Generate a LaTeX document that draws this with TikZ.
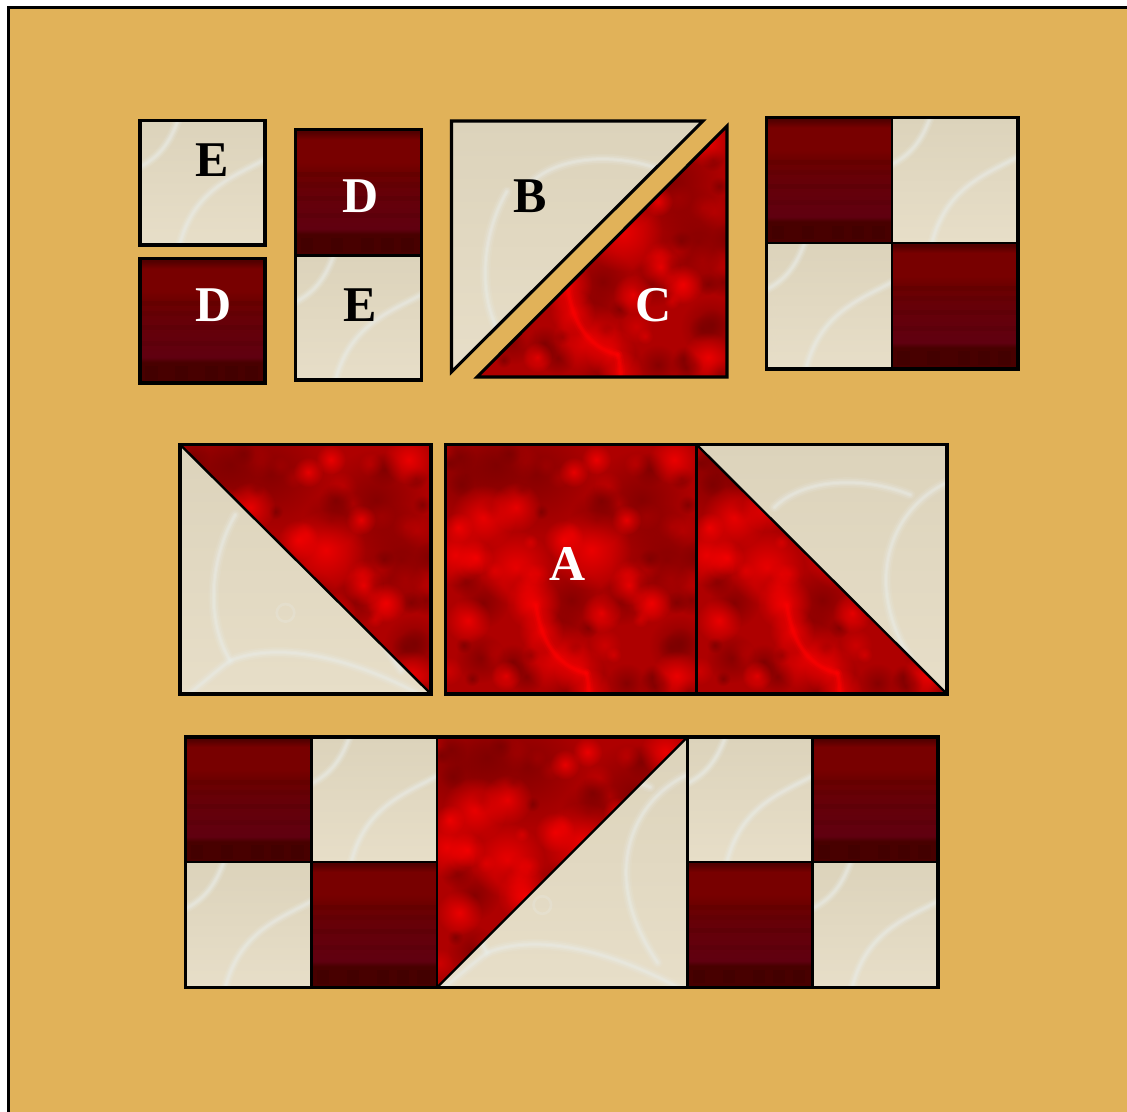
\documentclass[tikz,border=0pt]{standalone}
\usepackage{fontspec}
\setmainfont{Liberation Serif}
\usetikzlibrary{fadings}
\definecolor{quiltbg}{HTML}{E1B259}
\definecolor{creamA}{HTML}{DCD3BB}
\definecolor{creamB}{HTML}{E7DEC8}
\definecolor{streak}{HTML}{EAEDE8}
\definecolor{redbase}{HTML}{AE0000}
\definecolor{reddark}{HTML}{7A0000}
\definecolor{redbright}{HTML}{FF0000}
\definecolor{dkA}{HTML}{480000}
\definecolor{dkB}{HTML}{600010}
\definecolor{dkC}{HTML}{660008}
\definecolor{dkD}{HTML}{6C0000}
\definecolor{dkE}{HTML}{780000}
\definecolor{dkF}{HTML}{520000}
\definecolor{dkband}{HTML}{3A0000}
\pgfdeclareverticalshading{dkred}{100bp}{
  color(0bp)=(dkA);color(25bp)=(dkA);color(33.5bp)=(dkA);color(35.5bp)=(dkB);
  color(50bp)=(dkC);color(58bp)=(dkD);color(62bp)=(dkE);color(71bp)=(dkE);
  color(74bp)=(dkF);color(75bp)=(dkF);color(100bp)=(dkF)}
\tikzfading[name=softglow,inner color=transparent!25,outer color=transparent!100]
\tikzset{
  edge/.style={draw=black,line width=2.3pt,line join=miter},
  seam/.style={draw=black,line width=1.8pt,line cap=butt},
  lab/.style={inner sep=0pt,font=\bfseries\fontsize{37.5}{40}\selectfont},
  glow/.style={path fading=softglow},
}
% small cream square
\newcommand{\creamsmall}[3]{%
  \begin{scope}
    \clip (#1,#2) rectangle ++(#3,#3);
    \shade[top color=creamA,bottom color=creamB] (#1,#2) rectangle ++(#3,#3);
    \begin{scope}[shift={(#1,#2)},x=#3*0.0075pt,y=-#3*0.0075pt,streak,line cap=round]
      \foreach \w/\o in {7pt/.14,5pt/.2,3pt/.3,1.5pt/.3}{
        \draw[line width=\w,opacity=\o] (31,-2) .. controls (24,18) and (15,30) .. (-2,38);
        \draw[line width=\w,opacity=\o] (102,30) .. controls (75,45) and (42,55) .. (31,102);
      }
    \end{scope}
  \end{scope}}
% large cream square (clip set by the caller)
\newcommand{\creambig}[3]{%
  \shade[top color=creamA,bottom color=creamB] (#1,#2) rectangle ++(#3,#3);
  \begin{scope}[shift={(#1,#2)},x=#3*0.0075pt,y=-#3*0.0075pt,streak,line cap=round]
    \foreach \w/\o in {8pt/.12,5.5pt/.2,3pt/.3,1.5pt/.3}{
      \draw[line width=\w,opacity=\o] (31,25) .. controls (42,14) and (65,12) .. (85,20);
      \draw[line width=\w,opacity=\o] (100,15) .. controls (78,25) and (64,55) .. (88,90);
      \draw[line width=\w,opacity=\o] (22,28) .. controls (12,45) and (10,70) .. (20,86) .. controls (40,78) and (70,85) .. (100,102);
      \draw[line width=\w,opacity=\o] (20,86) .. controls (12,92) and (8,96) .. (0,102);
    }
    \draw[line width=2pt,opacity=.25] (42,67) circle (3.5);
  \end{scope}}
% mottled red fabric
\newcommand{\redfab}[3]{%
  \fill[redbase] (#1,#2) rectangle ++(#3,#3);
  \begin{scope}[shift={(#1,#2)},x=#3*0.0075pt,y=-#3*0.0075pt]
    \pgfmathsetseed{4711}
    \foreach \i in {1,...,70}{
      \pgfmathsetmacro{\a}{rnd*100}\pgfmathsetmacro{\b}{rnd*100}\pgfmathsetmacro{\r}{3+rnd*4}\pgfmathsetmacro{\k}{rnd}
      \ifdim\k pt<0.55pt
        \fill[reddark,glow] (\a,\b) circle (\r);
      \else
        \fill[redbright,opacity=.5,glow] (\a,\b) circle (\r);
      \fi
    }
    \foreach \a/\b/\r in {8/12/22,36/12/24,78/22/20,88/46/22,50/62/13,15/63/10,45/75/11,53/95/13,14/85/10,93/80/12,72/95/8,20/8/13,60/30/11,70/62/10}{
      \fill[reddark,glow] (\a,\b) circle (\r);
    }
    \foreach \a/\b/\r in {15/29/13,28/25/10,4/44/12,28/49/15,58/42/16,35/63/11,62/67/8,82/63/8,44/84/14,38/74/9,53/90/10,57/98/9,91/6/10,60/6/6,51/11/6,5/33/6,73/56/8,9/70/9,92/92/10,47/38/8,12/45/7,72/30/6,24/92/6}{
      \fill[redbright,glow] (\a,\b) circle (\r);
    }
    \begin{scope}[redbright,line cap=round]
      \foreach \w/\o in {7pt/.15,4pt/.3,2pt/.4}{
        \draw[line width=\w,opacity=\o] (36,64) .. controls (38,78) and (44,88) .. (56,91);
        \draw[line width=\w,opacity=\o] (56,91) .. controls (57,94) and (57,97) .. (57,100);
      }
    \end{scope}
  \end{scope}}
\newcommand{\darkfab}[3]{%
  \shade[shading=dkred] (#1,#2) rectangle ++(#3,#3);
  \begin{scope}[shift={(#1,#2)},x=#3*0.0075pt,y=-#3*0.0075pt]
    \foreach \yy/\o in {34/.12,42/.1,53/.12,66/.1}{
      \fill[dkband,opacity=\o] (0,\yy) rectangle (100,\yy+4);
    }
    \foreach \xx in {4,28,52,68,84}{
      \fill[dkband,opacity=.35] (\xx,86) rectangle (\xx+10,97);
    }
  \end{scope}}
\begin{document}
\begin{tikzpicture}[x=0.75pt,y=-0.75pt]
\useasboundingbox (0,0) rectangle (1127,1112);
\fill[white] (0,0) rectangle (1127,1112);
\fill[quiltbg] (8.5,8) rectangle (1127,1112);
\draw[line width=2.3pt,black] (8.5,1112) -- (8.5,7.5) -- (1127,7.5);

% E and D single squares
\creamsmall{140}{120.5}{125}
\draw[edge] (140,120.5) rectangle (265,245);
\node[lab,text=black] (e1) at (212.5,160.5) {E};
\darkfab{140}{258.5}{125}
\draw[edge] (140,258.5) rectangle (265,383);
\node[lab,text=white] (d1) at (213.5,305.5) {D};

% D over E
\darkfab{295.5}{129.5}{126}
\creamsmall{295.5}{255.3}{126}
\draw[edge] (295.5,129.5) rectangle (421.3,380);
\draw[edge] (295.5,255.3) -- (421.3,255.3);
\node[lab,text=white] (d2) at (360.5,196.5) {D};
\node[lab,text=black] (e2) at (360,305.5) {E};

% separated triangles
\begin{scope}
  \clip (451.5,121) -- (703,121) -- (451.5,372) -- cycle;
  \creambig{451.5}{121}{251.5}
\end{scope}
\draw[edge] (451.5,121) -- (703,121) -- (451.5,372) -- cycle;
\begin{scope}
  \clip (727,126) -- (727,377) -- (477,377) -- cycle;
  \redfab{477}{126}{251}
\end{scope}
\draw[edge] (727,126) -- (727,377) -- (477,377) -- cycle;
\node[lab,text=black] (b) at (530,196.5) {B};
\node[lab,text=white] (c) at (654,305.5) {C};

% four patch, top right
\darkfab{766.5}{117.5}{125.5}
\creamsmall{892}{117.5}{126}
\creamsmall{766.5}{243}{125.5}
\darkfab{892}{243}{126}
\draw[edge] (766.5,117.5) rectangle (1018,369);
\draw[seam] (892,117.5) -- (892,369);
\draw[seam] (766.5,243) -- (1018,243);

% row 2: left half-square
\begin{scope}
  \clip (180,444.5) rectangle (431,694);
  \creambig{180}{444.5}{251}
  \begin{scope}
    \clip (180,444.5) -- (431,444.5) -- (431,694) -- cycle;
    \redfab{180}{444.5}{251}
  \end{scope}
\end{scope}
\draw[seam] (180,444.5) -- (431,694);
\draw[edge] (180,444.5) rectangle (431,694);

% row 2: A square
\begin{scope}
  \clip (445.5,444.5) rectangle (696.5,694);
  \redfab{445.5}{444.5}{251}
\end{scope}
% row 2: right half-square
\begin{scope}
  \clip (696.5,444.5) rectangle (947,694);
  \creambig{696.5}{444.5}{251}
  \begin{scope}
    \clip (696.5,444.5) -- (947,694) -- (696.5,694) -- cycle;
    \redfab{696.5}{444.5}{251}
  \end{scope}
\end{scope}
\draw[seam] (696.5,444.5) -- (947,694);
\draw[edge] (445.5,444.5) rectangle (947,694);
\draw[seam] (696.5,444.5) -- (696.5,694);
\node[lab,text=white] (a) at (567.5,564) {A};

% row 3: left four patch
\darkfab{185.5}{737}{126}
\creamsmall{311.5}{737}{125.5}
\creamsmall{185.5}{862}{126}
\darkfab{311.5}{862}{125.5}
% row 3: centre half-square
\begin{scope}
  \clip (437,737) rectangle (687.5,987.5);
  \creambig{437}{737}{250.5}
  \begin{scope}
    \clip (437,737) -- (687.5,737) -- (437,987.5) -- cycle;
    \redfab{437}{737}{250.5}
  \end{scope}
\end{scope}
\draw[seam] (437,987.5) -- (687.5,737);
% row 3: right four patch
\creamsmall{687.5}{737}{125}
\darkfab{812.5}{737}{125.5}
\darkfab{687.5}{862}{125}
\creamsmall{812.5}{862}{125.5}
\draw[edge] (185.5,737) rectangle (938,987.5);
\draw[seam] (311.5,737) -- (311.5,987.5);
\draw[seam] (437,737) -- (437,987.5);
\draw[seam] (687.5,737) -- (687.5,987.5);
\draw[seam] (812.5,737) -- (812.5,987.5);
\draw[seam] (185.5,862) -- (437,862);
\draw[seam] (687.5,862) -- (938,862);
\end{tikzpicture}
\end{document}
